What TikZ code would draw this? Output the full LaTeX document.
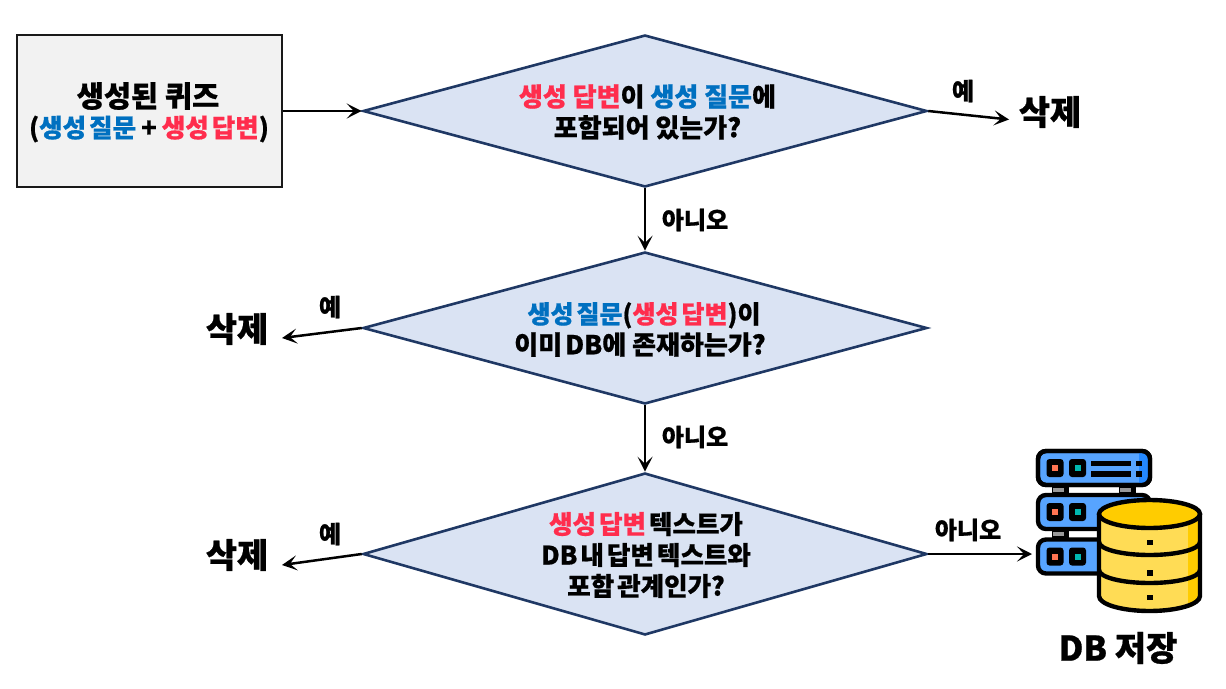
\documentclass[tikz,border=0pt]{standalone}
\usepackage{fontspec}
\setmainfont{Noto Sans CJK KR}[BoldFeatures={FakeBold=0.7}]
\usetikzlibrary{arrows.meta,shapes.geometric}
\definecolor{qblue}{HTML}{0070C0}
\definecolor{qred}{HTML}{FF2D4D}
\definecolor{dline}{HTML}{1F3864}
\definecolor{dfill}{HTML}{DAE3F3}
\newcommand{\qb}[1]{\textcolor{qblue}{#1}}
\newcommand{\qr}[1]{\textcolor{qred}{#1}}
\newcommand{\ts}{\hspace{.12em}}
\tikzset{
 x=1pt,y=-1pt,
 decision/.style={diamond,draw=dline,fill=dfill,line width=2.6pt,inner sep=0pt,minimum width=564pt,minimum height=#1,aspect=3.7},
 dtext/.style={align=center,inner sep=0pt,font=\fontsize{26}{31}\selectfont\bfseries},
 startbox/.style={draw=black!90,fill=black!5,line width=2.8pt,minimum width=265pt,minimum height=152pt,inner sep=0pt,align=center},
 flow/.style={-{Stealth[length=15pt,width=15pt,inset=7pt]},line width=2.5pt,black},
 lbl/.style={font=\fontsize{24}{28}\selectfont\bfseries,inner sep=0pt},
 del/.style={font=\fontsize{34}{38}\selectfont\bfseries,inner sep=0pt},
 srv/.style={draw=black,line width=4.4pt,rounded corners=8pt,fill=srvblue},
 led/.style={fill=black,rounded corners=3pt},
}
\definecolor{srvblue}{HTML}{57A4FF}
\definecolor{srvdark}{HTML}{2488FF}
\definecolor{dbbody}{HTML}{FFDC55}
\definecolor{dbtop}{HTML}{FFCC00}
\definecolor{ledo}{HTML}{FF7452}
\definecolor{ledt}{HTML}{00B8B0}
\newcommand{\serverunit}[2]{%
  \draw[srv] (1038,#1) rectangle (1150,#1+34);
  \ifnum#2=1
   \fill[srvdark] (1139,#1+2.2) -- (1142,#1+2.2) arc[start angle=90,end angle=0,radius=6pt] -- (1148,#1+26) arc[start angle=0,end angle=-90,radius=6pt] -- (1139,#1+31.8) -- cycle;
   \draw[srv,fill=none] (1038,#1) rectangle (1150,#1+34);
   \fill[black] (1091,#1+9.5) rectangle (1131,#1+15);
   \fill[black] (1091,#1+20) rectangle (1131,#1+25.5);
   \fill[black] (1135.5,#1+9.5) rectangle (1141.5,#1+15);
   \fill[black] (1135.5,#1+20) rectangle (1141.5,#1+25.5);
  \fi
  \fill[led] (1046.5,#1+8) rectangle (1063.5,#1+26);
  \fill[led] (1069,#1+8) rectangle (1086,#1+26);
  \fill[ledo] (1052,#1+14) rectangle (1058,#1+20);
  \fill[ledt] (1074.5,#1+14) rectangle (1080.5,#1+20);
}
\begin{document}
\begin{tikzpicture}
\useasboundingbox (0,0) rectangle (1226,688);
\node[startbox] (quiz) at (149.5,111) {};
\node[font=\fontsize{29.5}{33}\selectfont\bfseries,inner sep=0pt] (quizt) at (148,96) {생성된 퀴즈};
\node[font=\fontsize{25.5}{28}\selectfont\bfseries,inner sep=0pt] (quizs) at (149,129) {(\qb{생성\ts 질문}\hspace{.2em}+\hspace{.2em}\qr{생성\ts 답변})};
\node[decision=152pt] (d1) at (645,111) {};
\node[decision=152pt] (d2) at (645,328) {};
\node[decision=162pt,aspect=3.48] (d3) at (645,554) {};
\node[dtext] (t1) at (647.5,112) {\qr{생성 답변}이 \qb{생성 질문}에\\포함되어 있는가?};
\node[dtext] (t2) at (640,329.5) {\hspace{8pt}\fontsize{25}{31}\selectfont\qb{생성\ts 질문}(\qr{생성\ts 답변})이\\이미\ts DB에 존재하는가?};
\node[dtext,font=\fontsize{25.5}{31}\selectfont\bfseries] (t3) at (646,555) {\qr{생성\ts 답변}\ts 텍스트가\\DB\ts 내\ts 답변\ts 텍스트와\\포함\ts 관계인가?};
\node[del] (x1) at (1050,112) {삭제};
\node[del] (x2) at (237,329) {삭제};
\node[del] (x3) at (237,555) {삭제};
\coordinate (e1) at (1009,119.5);
\coordinate (e2) at (282,338);
\coordinate (e3) at (282,565);
\coordinate (e4) at (1032,554);
\draw[flow] (quiz.east |- d1.west) -- (d1.west);
\draw[flow] (d1.east) -- (e1);
\draw[flow] (d1.south) -- (d2.north);
\draw[flow] (d2.west) -- (e2);
\draw[flow] (d2.south) -- (d3.north);
\draw[flow] (d3.west) -- (e3);
\draw[flow] (d3.east) -- (e4);
\node[lbl] (l1) at (963,91) {예};
\node[lbl] (l2) at (695,220) {아니오};
\node[lbl] (l3) at (330,307) {예};
\node[lbl] (l4) at (695,437) {아니오};
\node[lbl] (l5) at (330,534) {예};
\node[lbl] (l6) at (968,530) {아니오};
% server icon
\foreach \xx in {1052,1119}{
  \fill[black] (\xx,487) rectangle (\xx+17,493);
  \fill[black!40] (\xx+1,488) rectangle (\xx+12,492);
}
\fill[black] (1052,530) rectangle (1069,538);
\fill[black!40] (1053,532) rectangle (1064,536);
\serverunit{451}{1}
\serverunit{495}{0}
\serverunit{539.5}{0}
% database cylinder
\begin{scope}[line width=4.4pt,draw=black]
 \fill[dbbody] (1099,514) -- (1099,596) arc[start angle=180,end angle=360,x radius=50.5pt,y radius=15pt] -- (1200,514) -- cycle;
 \fill[dbtop] (1188,520) -- (1200,514) -- (1200,596) .. controls (1200,602) and (1194,606) .. (1188,608) -- cycle;
 \fill[dbtop] (1149.5,514) ellipse[x radius=50.5pt,y radius=14pt];
 \draw (1099,514) -- (1099,596) arc[start angle=180,end angle=360,x radius=50.5pt,y radius=15pt] -- (1200,514);
 \draw (1099,542) arc[start angle=180,end angle=360,x radius=50.5pt,y radius=13pt];
 \draw (1099,570) arc[start angle=180,end angle=360,x radius=50.5pt,y radius=13pt];
 \draw (1149.5,514) ellipse[x radius=50.5pt,y radius=14pt];
\end{scope}
\foreach \yy in {542.5,573,597.5}{\fill[black] (1147,\yy-2.7) rectangle (1152.5,\yy+2.7);}
\node[font=\fontsize{34}{38}\selectfont\bfseries,inner sep=0pt] (dbsave) at (1118,648) {DB 저장};
\end{tikzpicture}
\end{document}
